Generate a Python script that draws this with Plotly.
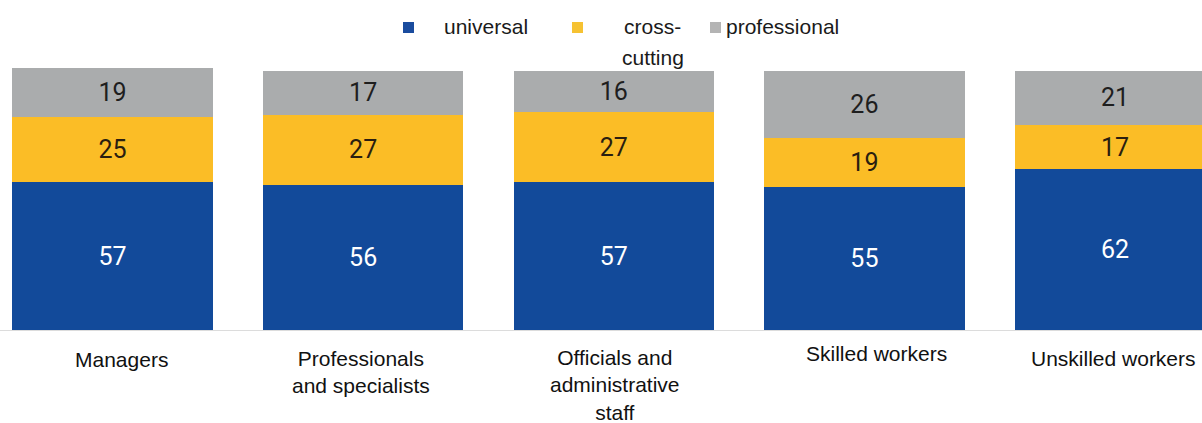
import plotly.graph_objects as go

# Share of skill types by occupational group, %
categories = ["Managers", "Professionals and specialists",
              "Officials and administrative staff", "Skilled workers",
              "Unskilled workers"]
tick_labels = ["Managers", "Professionals<br>and specialists",
               "Officials and<br>administrative<br>staff", "Skilled workers",
               "Unskilled workers"]
universal = [57, 56, 57, 55, 62]
cross_cutting = [25, 27, 27, 19, 17]
professional = [19, 17, 16, 26, 21]

series = [
    ("universal", universal, "#124A9A", "#FFFFFF"),
    ("cross-cutting", cross_cutting, "#FBBD26", "#2A1E10"),
    ("professional", professional, "#AAACAD", "#1E1E1E"),
]

PLOT_TOP, PLOT_BOTTOM = 68, 330
PLOT_H = PLOT_BOTTOM - PLOT_TOP
W = 1202


def py(px):
    """pixel row -> paper y"""
    return (PLOT_BOTTOM - px) / PLOT_H


fig = go.Figure()
for name, vals, color, txt in series:
    fig.add_trace(go.Bar(
        x=categories, y=vals, name=name,
        marker=dict(color=color, line=dict(width=0)),
        text=[str(v) for v in vals],
        textposition="inside", insidetextanchor="middle",
        textangle=0, constraintext="none",
        textfont=dict(family="Roboto", size=25, color=txt),
        hoverinfo="skip", showlegend=False,
    ))

# category labels under the bars
label_shift = [9, -2, 1, 12, -2]
label_top = [346, 345, 344, 340, 345]
text_font = dict(family="Liberation Sans", size=21, color="#111111")
annotations = []
for cat, lab, dx, top in zip(categories, tick_labels, label_shift, label_top):
    annotations.append(dict(
        x=cat, y=py(top), xref="x", yref="paper", text=lab, showarrow=False,
        xanchor="center", yanchor="top", xshift=dx, align="center",
        font=text_font,
    ))

# legend: squares plus labels
legend_font = dict(family="Liberation Sans", size=21, color="#1a1a1a")
legend_items = [
    (403, "#1A4C9E", [("universal", 486, 26)]),
    (572, "#F6C232", [("cross-", 652, 26), ("cutting", 653, 57)]),
    (710, "#B4B4B4", [("professional", 782, 26)]),
]
shapes = []
for sx, col, texts in legend_items:
    shapes.append(dict(type="rect", xref="paper", yref="paper",
                       x0=sx / W, x1=(sx + 11) / W,
                       y0=py(33), y1=py(22),
                       fillcolor=col, line=dict(width=0), layer="above"))
    for t, tx, ty in texts:
        annotations.append(dict(
            x=tx / W, y=py(ty), xref="paper", yref="paper",
            text=t, showarrow=False, xanchor="center", yanchor="middle",
            font=legend_font,
        ))

fig.update_layout(
    barmode="stack", bargap=0.2,
    width=W, height=423,
    margin=dict(l=0, r=0, t=PLOT_TOP, b=423 - PLOT_BOTTOM),
    paper_bgcolor="white", plot_bgcolor="white",
    xaxis=dict(range=[-0.449, 4.347], showticklabels=False, ticks="",
               showgrid=False, zeroline=False, showline=True,
               linecolor="#DCDCDC", linewidth=1, fixedrange=True),
    yaxis=dict(range=[0, 101], visible=False, showgrid=False, fixedrange=True),
    annotations=annotations, shapes=shapes,
    hovermode=False, showlegend=False,
)

fig.write_html("out.html", config={"displayModeBar": False})
